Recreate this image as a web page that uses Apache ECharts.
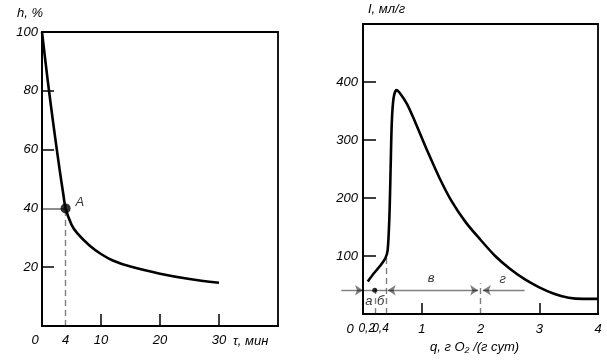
<!DOCTYPE html>
<html><head><meta charset="utf-8">
<script src="https://cdn.jsdelivr.net/npm/echarts@6/dist/echarts.min.js"></script>
<style>html,body{margin:0;padding:0;background:#fff}#c{width:607px;height:360px}</style>
</head><body><div id="c"></div>
<script>
// ---- Left chart: h, % vs τ, мин ----
const leftTime = [0, 1, 2, 3, 3.6, 4, 5, 6, 8, 10, 12, 15, 20, 25, 30];
const leftH    = [100, 83, 67.5, 53, 45, 40, 34.5, 31.5, 27.5, 24.5, 22.3, 20.2, 17.8, 16, 14.7];
const leftXLabels = [0, 4, 10, 20, 30];
const leftXTicks = [10, 20, 30];
const leftYLabels = [20, 40, 60, 80, 100];
const leftYTicks = [20, 60, 80];
const pointA = [4, 40];
const pointAName = 'A';

// ---- Right chart: I, мл/г vs q, г O2/(г сут) ----
const rightQ = [0.08, 0.2, 0.3, 0.38, 0.42, 0.45, 0.47, 0.49, 0.52, 0.57, 0.62, 0.75, 0.9, 1.1, 1.3, 1.5, 1.75, 2, 2.25, 2.5, 2.75, 3, 3.25, 3.5, 3.75, 4];
const rightI = [56, 72, 84, 96, 110, 170, 250, 330, 372, 386, 382, 362, 328, 280, 235, 196, 158, 128, 100, 78, 60, 46, 35, 28, 26, 26];
const rightXLabels = [0, 0.2, 0.4, 1, 2, 3, 4];
const rightXTicks = [1, 3];
const rightYLabels = [100, 200, 300, 400];
const zoneLevel = 41;
const zoneNames = ['а', 'б', 'в', 'г'];
const zoneLabelQ = [0.1, 0.3, 1.16, 2.38];
const zoneLabelI = [21, 21, 62, 59];
const zoneDashQ = [0.2, 0.4, 2];
const zoneDashTop = [46, 100, 53];

const black = '#000';
const font = 'Liberation Sans';

const curveL = leftTime.map((t, i) => [t, leftH[i]]);
const curveR = rightQ.map((q, i) => [q, rightI[i]]);

function axisCommon(){
  return {
    axisLine: {show: true, lineStyle: {color: black, width: 1.8}},
    splitLine: {show: false},
  };
}
const labelStyle = {color: black, fontFamily: font, fontStyle: 'italic', fontSize: 13};

const chart = echarts.init(document.getElementById('c'), null, {renderer: 'canvas'});
chart.setOption({
  animation: false,
  backgroundColor: '#fff',
  grid: [
    {left: 42, top: 32, width: 236, height: 294, show: true, borderColor: black, borderWidth: 1.8, backgroundColor: 'transparent'},
    {left: 363, top: 24, width: 235, height: 290, show: true, borderColor: black, borderWidth: 1.8, backgroundColor: 'transparent'}
  ],
  xAxis: [
    Object.assign(axisCommon(), {
      gridIndex: 0, type: 'value', min: 0, max: 40,
      axisTick: {show: true, inside: true, length: 12, customValues: leftXTicks, lineStyle: {color: black, width: 1.5}},
      axisLabel: Object.assign({}, labelStyle, {
        customValues: leftXLabels, margin: 8,
        formatter: v => v === 0 ? '{z|0}' : String(v),
        rich: {z: {color: black, fontFamily: font, fontStyle: 'italic', fontSize: 13, padding: [0, 14, 0, 0]}}
      })
    }),
    Object.assign(axisCommon(), {
      gridIndex: 1, type: 'value', min: 0, max: 4,
      axisTick: {show: true, inside: true, length: 11, customValues: rightXTicks, lineStyle: {color: black, width: 1.5}},
      axisLabel: Object.assign({}, labelStyle, {
        customValues: rightXLabels, margin: 9,
        formatter: v => {
          if (v === 0) return '{z|0}';
          if (v === 0.2) return '{a|0,2}';
          if (v === 0.4) return '{b|0,4}';
          return String(v).replace('.', ',');
        },
        rich: {
          z: {color: black, fontFamily: font, fontStyle: 'italic', fontSize: 13, padding: [0, 26, 0, 0]},
          a: {color: black, fontFamily: font, fontStyle: 'italic', fontSize: 12, padding: [0, 16, 0, 0]},
          b: {color: black, fontFamily: font, fontStyle: 'italic', fontSize: 12, padding: [0, 12, 0, 0]}
        }
      })
    })
  ],
  yAxis: [
    Object.assign(axisCommon(), {
      gridIndex: 0, type: 'value', min: 0, max: 100,
      axisTick: {show: true, inside: true, length: 12, customValues: leftYTicks, lineStyle: {color: black, width: 1.5}},
      axisLabel: Object.assign({}, labelStyle, {customValues: leftYLabels, margin: 4})
    }),
    Object.assign(axisCommon(), {
      gridIndex: 1, type: 'value', min: 0, max: 500,
      axisTick: {show: true, inside: true, length: 13, customValues: rightYLabels, lineStyle: {color: black, width: 1.5}},
      axisLabel: Object.assign({}, labelStyle, {customValues: rightYLabels, margin: 5})
    })
  ],
  series: [
    {type: 'line', xAxisIndex: 0, yAxisIndex: 0, data: curveL, smooth: 0.3, showSymbol: false,
     lineStyle: {color: black, width: 2.6}},
    {type: 'lines', coordinateSystem: 'cartesian2d', xAxisIndex: 0, yAxisIndex: 0, clip: false,
     lineStyle: {color: black, width: 1.4, type: [6, 4]},
     data: [{coords: [[pointA[0], 0], pointA]}]},
    {type: 'lines', coordinateSystem: 'cartesian2d', xAxisIndex: 0, yAxisIndex: 0, clip: false,
     lineStyle: {color: black, width: 1.8},
     data: [{coords: [[0, pointA[1]], pointA]}]},
    {type: 'scatter', xAxisIndex: 0, yAxisIndex: 0, data: [pointA], symbolSize: 10,
     itemStyle: {color: black},
     label: {show: true, position: 'right', offset: [0, -6], formatter: pointAName, color: black, fontFamily: font, fontStyle: 'italic', fontSize: 13}},

    {type: 'line', xAxisIndex: 1, yAxisIndex: 1, data: curveR, smooth: 0.3, showSymbol: false,
     lineStyle: {color: black, width: 2.6}},
    // dashed zone boundaries
    {type: 'lines', coordinateSystem: 'cartesian2d', xAxisIndex: 1, yAxisIndex: 1, clip: false,
     lineStyle: {color: black, width: 1.4, type: [6, 4]},
     data: zoneDashQ.map((q, i) => ({coords: [[q, 0], [q, zoneDashTop[i]]]}))},
    // plain segment a-б
    {type: 'lines', coordinateSystem: 'cartesian2d', xAxisIndex: 1, yAxisIndex: 1, clip: false,
     lineStyle: {color: black, width: 1.4},
     data: [{coords: [[0, zoneLevel], [0.4, zoneLevel]]}]},
    // single arrows
    {type: 'lines', coordinateSystem: 'cartesian2d', xAxisIndex: 1, yAxisIndex: 1, clip: false,
     symbol: ['none', 'arrow'], symbolSize: 8,
     lineStyle: {color: black, width: 1.4},
     data: [{coords: [[-0.37, zoneLevel], [0, zoneLevel]]}, {coords: [[2.75, zoneLevel], [2.04, zoneLevel]]}]},
    // double arrow в
    {type: 'lines', coordinateSystem: 'cartesian2d', xAxisIndex: 1, yAxisIndex: 1, clip: false,
     symbol: ['arrow', 'arrow'], symbolSize: 8,
     lineStyle: {color: black, width: 1.4},
     data: [{coords: [[0.42, zoneLevel], [1.96, zoneLevel]]}]},
    {type: 'scatter', xAxisIndex: 1, yAxisIndex: 1, data: [[0.2, zoneLevel]], symbolSize: 5, itemStyle: {color: black}},
    // zone labels
    {type: 'scatter', xAxisIndex: 1, yAxisIndex: 1, symbolSize: 0, silent: true,
     data: zoneNames.map((n, i) => ({name: n, value: [zoneLabelQ[i], zoneLabelI[i]]})),
     label: {show: true, position: 'inside', formatter: p => p.name, color: black, fontFamily: font, fontStyle: 'italic', fontSize: 13}}
  ],
  graphic: [
    {type: 'text', left: 17, top: 7, style: {text: 'h, %', fill: black, font: 'italic 13px "Liberation Sans"'}},
    {type: 'text', left: 233, top: 335, style: {text: 'τ, мин', fill: black, font: 'italic 13px "Liberation Sans"'}},
    {type: 'text', left: 368, top: 3, style: {text: 'I, мл/г', fill: black, font: 'italic 13px "Liberation Sans"'}},
    {type: 'text', left: 430, top: 341, style: {text: 'q, г O₂ /(г сут)', fill: black, font: 'italic 13px "Liberation Sans"'}}
  ]
});
</script>
</body></html>
